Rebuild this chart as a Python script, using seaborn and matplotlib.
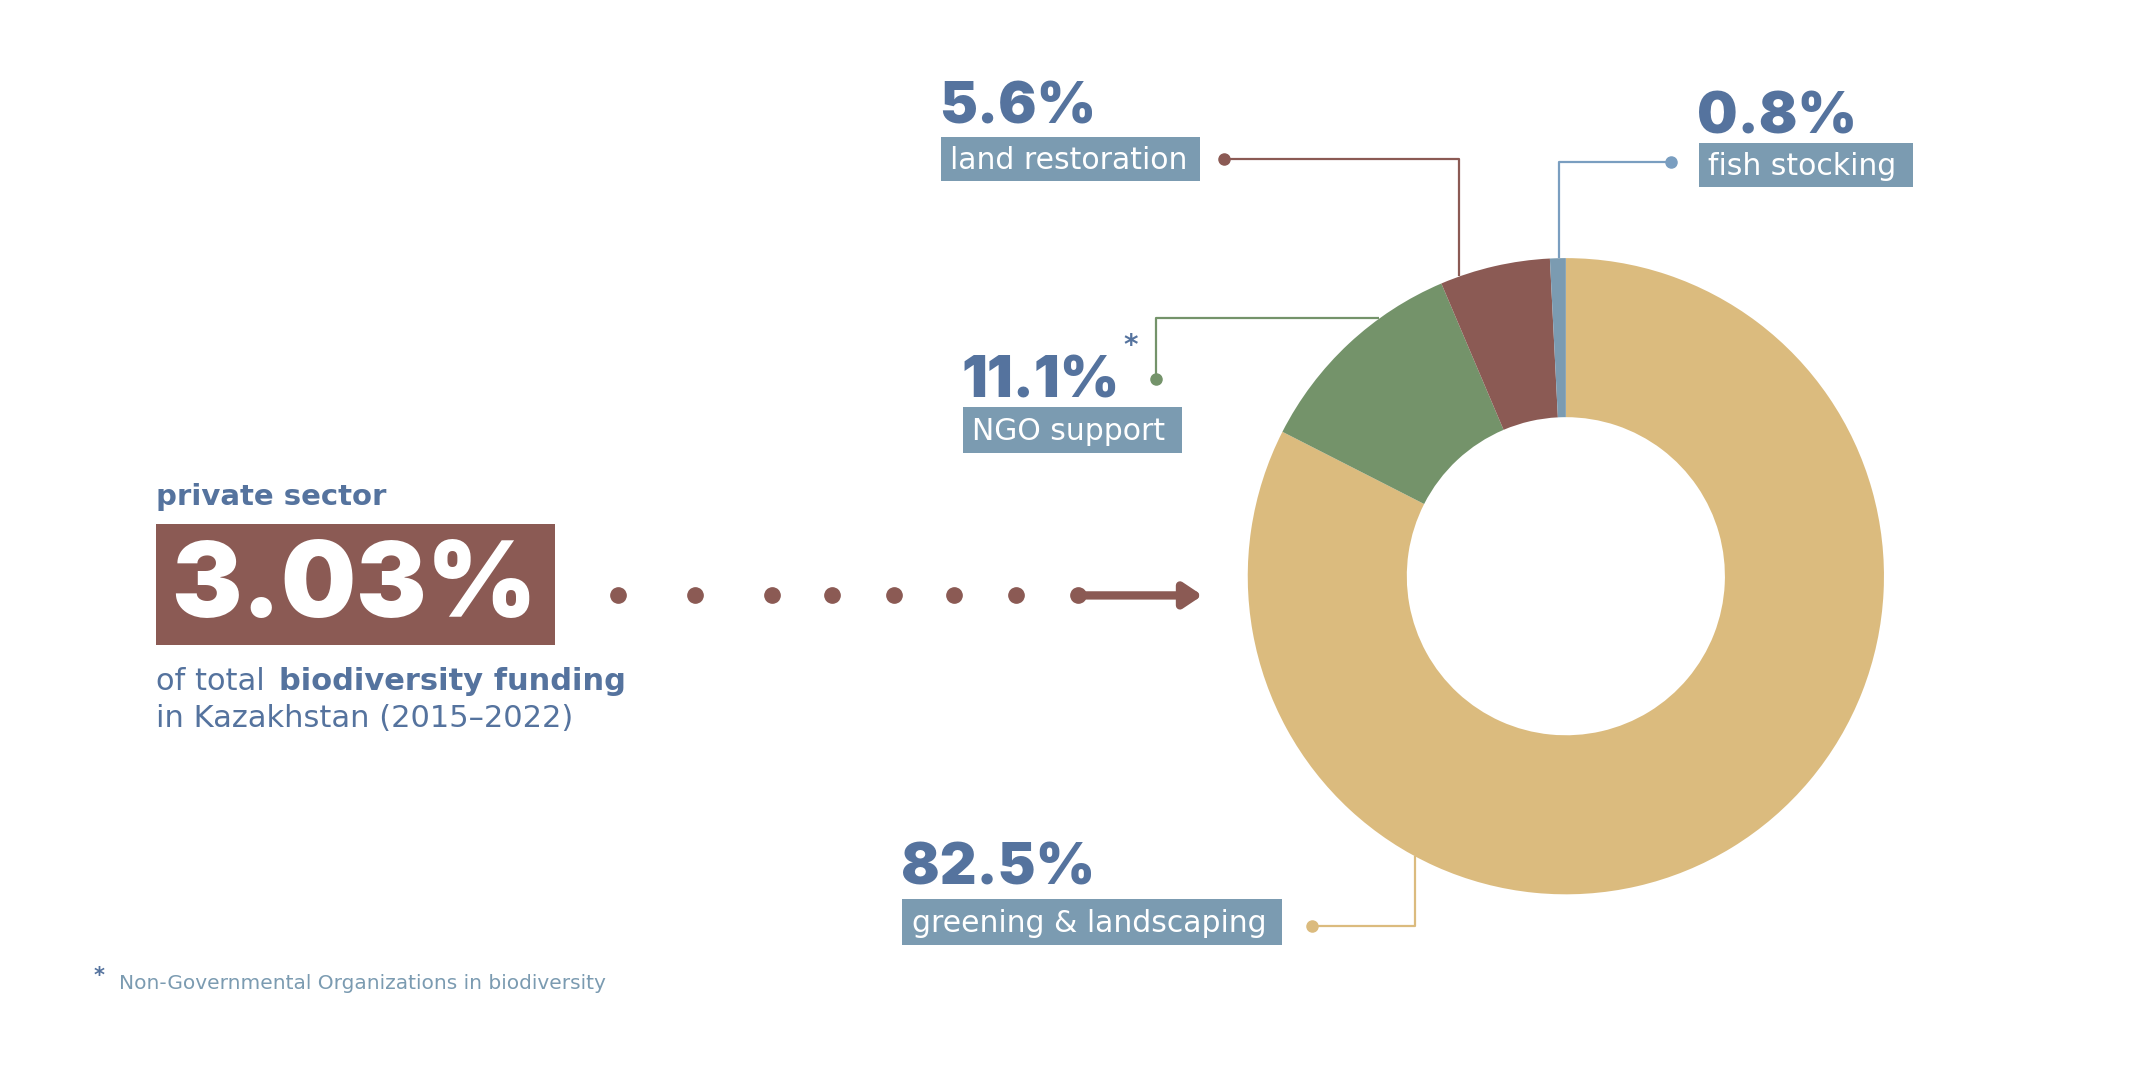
import numpy as np
import matplotlib
matplotlib.use('Agg')
import matplotlib.pyplot as plt
from matplotlib.patches import Rectangle
import seaborn as sns

# shares of private-sector biodiversity funding, clockwise from 12 o'clock
categories = ['greening & landscaping', 'NGO support', 'land restoration', 'fish stocking']
shares = [82.5, 11.1, 5.6, 0.8]
pct_labels = ['82.5%', '11.1%', '5.6%', '0.8%']
private_share = '3.03%'

sns.set_theme(style='white')
plt.rcParams['font.family'] = ['DejaVu Sans']
NUMFONT = ['Inter', 'DejaVu Sans']

pal = {'greening & landscaping': '#DBBB7E', 'NGO support': '#74936A',
       'land restoration': '#8B5A54', 'fish stocking': '#7B9BB1'}
TXT = '#55739E'
BOX = '#7B9BB1'
RED = '#8B5A54'

# layout units (page is W x H, y going down)
W, H = 1560, 777
cx, cy, R = 1142, 420, 232

fig = plt.figure(figsize=(21.39, 10.66), dpi=100)
fig.patch.set_facecolor('white')

axp = fig.add_axes([(cx - R) / W, 1 - (cy + R) / H, 2 * R / W, 2 * R / H])
wedges, _ = axp.pie(shares, colors=[pal[c] for c in categories], startangle=90,
                    counterclock=False, wedgeprops=dict(width=0.5, linewidth=0))
axp.set_xlim(-1, 1)
axp.set_ylim(-1, 1)
axp.axis('off')

ov = fig.add_axes([0, 0, 1, 1])
ov.set_xlim(0, W)
ov.set_ylim(H, 0)
ov.axis('off')
ov.patch.set_alpha(0)
rend = fig.canvas.get_renderer()


def data_bbox(t):
    return t.get_window_extent(rend).transformed(ov.transData.inverted())


def edge_y(x, top=True):
    d = np.sqrt(R ** 2 - (x - cx) ** 2)
    return cy - d if top else cy + d


def edge_x(y):
    return cx - np.sqrt(R ** 2 - (y - cy) ** 2)


def label(pct, name, bx, by, bw, bh, base):
    t = ov.text(bx - 1, base, pct, fontsize=41, fontweight='black', family=NUMFONT,
                color=TXT, va='baseline', ha='left')
    ov.add_patch(Rectangle((bx, by), bw, bh, color=BOX, lw=0))
    ov.text(bx + 7, by + bh / 2 + 1, name, fontsize=21.5, color='white', va='center', ha='left')
    return t


def leader(pts, col):
    xs, ys = zip(*pts)
    ov.plot(xs, ys, color=col, lw=1.6, solid_capstyle='butt')
    ov.plot(xs[0], ys[0], 'o', color=col, ms=8)


# land restoration
label(pct_labels[2], categories[2], 686, 100, 189, 32, 90)
leader([(893, 116), (1064, 116), (1064, edge_y(1064))], pal['land restoration'])
# fish stocking
label(pct_labels[3], categories[3], 1239, 104, 156, 32, 97)
leader([(1219, 118), (1137, 118), (1137, edge_y(1137))], '#7A9EC0')
# NGO support
t_ngo = label(pct_labels[1], categories[1], 702, 297, 160, 33, 290)
ngo_bb = data_bbox(t_ngo)
ov.text(ngo_bb.x1 + 3, 252, '*', fontsize=20, fontweight='bold', color=TXT, ha='left', va='center')
leader([(843, 276), (843, 232), (edge_x(232), 232)], pal['NGO support'])
# greening & landscaping
label(pct_labels[0], categories[0], 658, 655, 277, 34, 645)
leader([(957, 675), (1032, 675), (1032, edge_y(1032, top=False))], pal['greening & landscaping'])

# left block
ov.text(114, 368, 'private sector', fontsize=21, fontweight='bold', color=TXT, va='baseline')
ov.add_patch(Rectangle((114, 382), 291, 88, color=RED, lw=0))
ov.text(125, 450, private_share, fontsize=76, fontweight='black', family=NUMFONT,
        color='white', va='baseline')
t1 = ov.text(114, 503, 'of total', fontsize=22, color=TXT, va='baseline')
ov.text(data_bbox(t1).x1 + 10, 503, 'biodiversity funding', fontsize=22, fontweight='bold',
        color=TXT, va='baseline')
ov.text(114, 530, 'in Kazakhstan (2015\u20132022)', fontsize=22, color=TXT, va='baseline')

# dotted arrow
dots_x = [451, 507, 563, 607, 652, 696, 741, 786]
ov.plot(dots_x, [434] * len(dots_x), 'o', color=RED, ms=11, lw=0)
ov.annotate('', xy=(877, 434), xytext=(786, 434),
            arrowprops=dict(arrowstyle='-|>,head_length=0.9,head_width=0.6', color=RED, lw=6,
                            shrinkA=0, shrinkB=0))

# footnote
ov.text(72, 716, '*', fontsize=15, fontweight='bold', color=TXT, ha='center', va='baseline')
ov.text(87, 721, 'Non-Governmental Organizations in biodiversity', fontsize=14.5, color=BOX, va='baseline')

fig.savefig('out.png', dpi=100, facecolor='white')
